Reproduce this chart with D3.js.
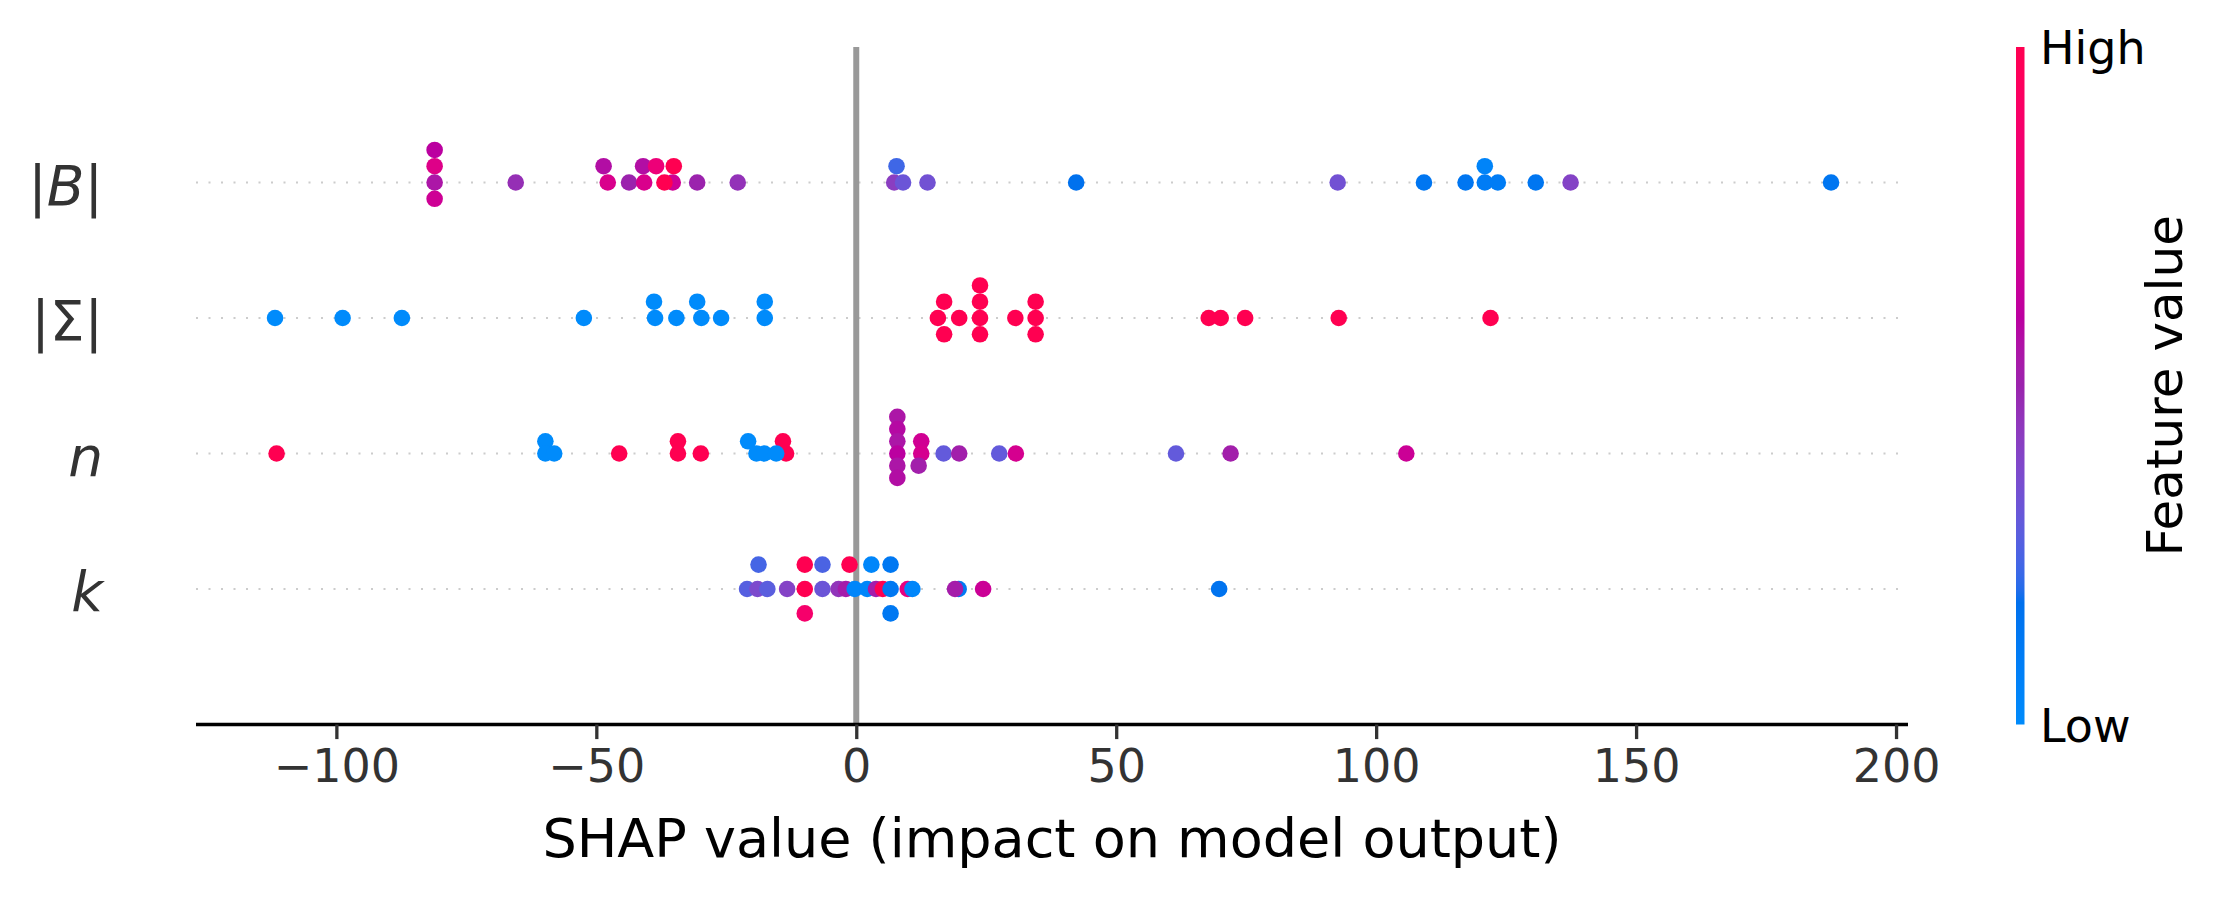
<!DOCTYPE html>
<html lang="en">
<head>
<meta charset="UTF-8">
<title>SHAP summary</title>
<script src="https://cdn.jsdelivr.net/npm/d3@7"></script>
<style>
  body { margin: 0; background: #fff; }
  text { font-family: "DejaVu Sans", sans-serif; }
</style>
</head>
<body>
<svg width="2221" height="897"></svg>
<script>
// feature rows, top to bottom
const featureNames = ["|B|", "|Σ|", "n", "k"];

// |B|
const bShap  = [-81.1, -81.1, -81.1, -81.1, -65.5, -48.6, -47.8, -43.7, -41.0, -40.8, -38.5, -35.3, -36.9, -35.1, -30.6, -22.8,
                7.3, 9.0, 7.75, 13.7, 42.3, 92.6, 109.2, 117.2, 120.9, 120.9, 123.4, 130.7, 137.4, 187.5];
const bValue = [0.6, 0.74, 0.55, 0.67, 0.47, 0.57, 0.72, 0.5, 0.57, 0.72, 0.82, 0.67, 1, 1, 0.5, 0.46,
                0.42, 0.32, 0.23, 0.34, 0.17, 0.34, 0.14, 0.14, 0.05, 0.1, 0.1, 0.14, 0.4, 0.14];
const bLayer = [2, 1, 0, -1, 0, 1, 0, 0, 1, 0, 1, 0, 0, 1, 0, 0,
                0, 0, 1, 0, 0, 0, 0, 0, 1, 0, 0, 0, 0, 0];

// |Σ|
const sShap  = [-111.8, -98.8, -87.4, -52.4, -38.9, -38.7, -34.6, -30.6, -29.8, -26.0, -17.6, -17.6,
                15.7, 16.9, 16.9, 19.8, 23.8, 23.8, 23.8, 23.8, 30.6, 34.5, 34.5, 34.5, 67.8, 70.1, 74.8, 92.8, 122.0];
const sValue = [0, 0, 0, 0, 0, 0, 0, 0, 0, 0, 0, 0,
                1, 1, 1, 1, 1, 1, 1, 1, 1, 1, 1, 1, 1, 1, 1, 1, 1];
const sLayer = [0, 0, 0, 0, 1, 0, 0, 1, 0, 0, 1, 0,
                0, 1, -1, 0, 2, 1, 0, -1, 0, 1, 0, -1, 0, 0, 0, 0, 0];

// n
const nShap  = [-111.5, -59.8, -59.8, -58.1, -45.6, -34.3, -34.3, -29.9, -20.8, -19.2, -17.7, -14.1, -13.5, -15.4,
                7.9, 7.9, 7.9, 7.9, 7.9, 7.9, 12.5, 12.5, 12.0, 16.8, 19.8, 27.5, 30.7, 61.5, 72.0, 105.8];
const nValue = [1, 0, 0, 0, 1, 1, 1, 1, 0, 0, 0, 1, 1, 0,
                0.55, 0.58, 0.55, 0.6, 0.55, 0.57, 0.68, 0.7, 0.52, 0.3, 0.52, 0.3, 0.7, 0.3, 0.52, 0.66];
const nLayer = [0, 1, 0, 0, 0, 1, 0, 0, 1, 0, 0, 1, 0, 0,
                3, 2, 1, 0, -1, -2, 1, 0, -1, 0, 0, 0, 0, 0, 0, 0];

// k
const kShap  = [-18.8, -9.9, -6.5, -1.3, 2.9, 6.6,
                -21.0, -19.0, -17.1, -13.3, -9.9, -6.5, -3.4, -2.0, -0.3, 2.1, 3.8, 5.1, 6.6, 9.9, 10.8, 19.7, 19.0, 24.4, 69.8,
                -9.9, 6.6];
const kValue = [0.24, 1, 0.25, 1, 0.03, 0.13,
                0.27, 0.37, 0.28, 0.4, 1, 0.32, 0.45, 0.53, 0.03, 0.03, 0.53, 1, 0.13, 0.78, 0.03, 0.12, 0.53, 0.66, 0.16,
                0.88, 0.13];
const kLayer = [1, 1, 1, 1, 1, 1,
                0, 0, 0, 0, 0, 0, 0, 0, 0, 0, 0, 0, 0, 0, 0, 0, 0, 0, 0,
                -1, -1];

const xTicks = [-100, -50, 0, 50, 100, 150, 200];

// shap red_blue map: lch path blue -> purple -> red, lightness dips to 40 in the middle
function shapColor(t) {
    const L = t < 0.5 ? 54 - 28 * t : 40 + 28 * (t - 0.5);
    const C = 70 + 20 * t;
    const H = 4.6588 + (0.35470565 + 2 * Math.PI - 4.6588) * t;
    const a = C * Math.cos(H), b = C * Math.sin(H);
    const fy = (L + 16) / 116, fx = fy + a / 500, fz = fy - b / 200;
    const finv = v => v > 6 / 29 ? v * v * v : 3 * (6 / 29) * (6 / 29) * (v - 4 / 29);
    const X = 0.95047 * finv(fx), Y = finv(fy), Z = 1.08883 * finv(fz);
    const lin = [
        3.2404542 * X - 1.5371385 * Y - 0.4985314 * Z,
        -0.9692660 * X + 1.8760108 * Y + 0.0415560 * Z,
        0.0556434 * X - 0.2040259 * Y + 1.0572252 * Z
    ];
    const g = lin.map(v => {
        v = Math.max(0, Math.min(1, v));
        v = v <= 0.0031308 ? 12.92 * v : 1.055 * Math.pow(v, 1 / 2.4) - 0.055;
        return Math.round(v * 255);
    });
    return d3.rgb(g[0], g[1], g[2]).formatHex();
}

const rows = [
    {name: featureNames[0], pos: 3, shap: bShap, val: bValue, layer: bLayer},
    {name: featureNames[1], pos: 2, shap: sShap, val: sValue, layer: sLayer},
    {name: featureNames[2], pos: 1, shap: nShap, val: nValue, layer: nLayer},
    {name: featureNames[3], pos: 0, shap: kShap, val: kValue, layer: kLayer}
];

const x = d3.scaleLinear().domain([-127, 202.3]).range([196, 1908]);
const y = d3.scaleLinear().domain([-1, 4]).range([724.5, 47]);

const svg = d3.select("svg");
svg.append("rect").attr("width", 2221).attr("height", 897).attr("fill", "#fff");

// dotted row guides
svg.append("g").selectAll("line")
    .data(rows)
    .join("line")
    .attr("x1", x.range()[0]).attr("x2", x.range()[1])
    .attr("y1", d => y(d.pos)).attr("y2", d => y(d.pos))
    .attr("stroke", "#cccccc")
    .attr("stroke-width", 2)
    .attr("stroke-dasharray", "2 10.5");

// zero line
svg.append("line")
    .attr("x1", x(0)).attr("x2", x(0))
    .attr("y1", y(4)).attr("y2", y(-1))
    .attr("stroke", "#999999")
    .attr("stroke-width", 6);

// dots, vertical spread like shap: 0.9 * 0.4 / (max layer + 1)
const points = rows.flatMap(r => {
    const step = 0.36 / (d3.max(r.layer) + 1);
    return r.shap.map((s, i) => ({s: s, v: r.val[i], yy: r.pos + r.layer[i] * step}));
});
svg.append("g").selectAll("circle")
    .data(points)
    .join("circle")
    .attr("cx", d => x(d.s))
    .attr("cy", d => y(d.yy))
    .attr("r", 8.3)
    .attr("fill", d => shapColor(d.v));

// x axis
const xAxis = svg.append("g")
    .attr("transform", `translate(0,${y(-1)})`)
    .call(d3.axisBottom(x).tickValues(xTicks).tickSize(14.6).tickPadding(10)
        .tickFormat(d => d < 0 ? "\u2212" + Math.abs(d) : d));
xAxis.select(".domain").attr("stroke", "#000").attr("stroke-width", 3.3).attr("d", `M${x.range()[0]},0H${x.range()[1]}`);
xAxis.selectAll(".tick line").attr("stroke", "#333333").attr("stroke-width", 3.3);
xAxis.selectAll(".tick text").attr("fill", "#333333").attr("font-size", 46)
    .attr("font-family", "DejaVu Sans").attr("dy", "0.71em");

svg.append("text")
    .attr("x", (x.range()[0] + x.range()[1]) / 2)
    .attr("y", 857)
    .attr("text-anchor", "middle")
    .attr("font-size", 54)
    .attr("fill", "#000")
    .text("SHAP value (impact on model output)");

// row labels, italic letters like mathtext
const labelG = svg.append("g");
rows.forEach(r => {
    const t = labelG.append("text")
        .attr("x", 103)
        .attr("y", y(r.pos) + 22)
        .attr("text-anchor", "end")
        .attr("font-size", 55)
        .attr("fill", "#333333");
    r.name.split("").forEach(ch => {
        t.append("tspan")
            .attr("font-style", /[A-Za-z]/.test(ch) ? "italic" : "normal")
            .text(ch);
    });
});

// colour bar
const defs = svg.append("defs");
const grad = defs.append("linearGradient")
    .attr("id", "cbar").attr("x1", 0).attr("x2", 0).attr("y1", 1).attr("y2", 0);
grad.selectAll("stop")
    .data(d3.range(0, 1.0001, 0.02))
    .join("stop")
    .attr("offset", d => d)
    .attr("stop-color", d => shapColor(d));

svg.append("rect")
    .attr("x", 2016).attr("y", y(4))
    .attr("width", 8.5).attr("height", y(-1) - y(4))
    .attr("fill", "url(#cbar)");

svg.append("text").attr("x", 2040).attr("y", y(4) + 17)
    .attr("font-size", 46).attr("fill", "#000").text("High");
svg.append("text").attr("x", 2040).attr("y", y(-1) + 17)
    .attr("font-size", 46).attr("fill", "#000").text("Low");
svg.append("text")
    .attr("transform", `translate(2182,${(y(4) + y(-1)) / 2}) rotate(-90)`)
    .attr("text-anchor", "middle")
    .attr("font-size", 50)
    .attr("fill", "#000")
    .text("Feature value");
</script>
</body>
</html>
